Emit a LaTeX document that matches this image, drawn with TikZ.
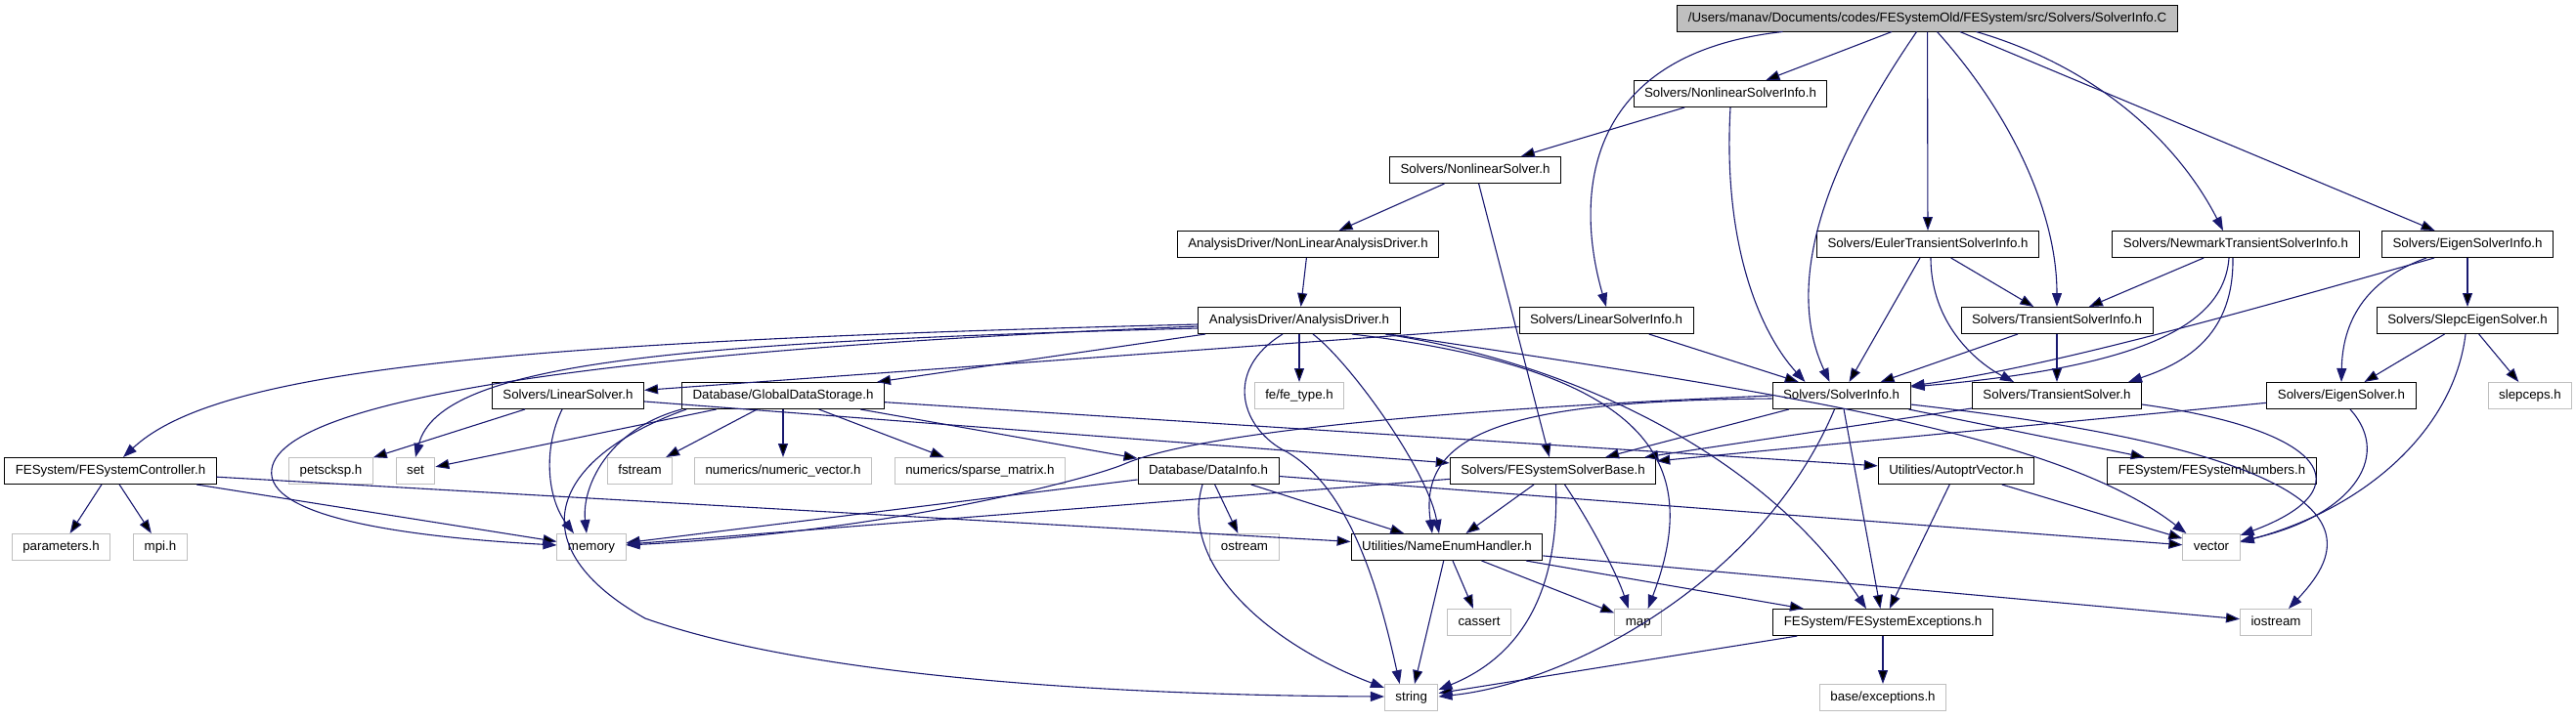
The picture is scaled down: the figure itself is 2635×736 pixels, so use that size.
\documentclass[tikz,border=0pt]{standalone}
\usepackage{fontspec}
\setmainfont{Liberation Sans}
\usetikzlibrary{arrows.meta, calc, positioning}
\definecolor{edgeblue}{HTML}{191970}
\definecolor{boxgray}{HTML}{BFBFBF}
\tikzset{hdr/.style={rectangle,draw=black,fill=white,line width=0.5pt,
    minimum height=13.5pt,inner xsep=5.5pt,inner ysep=0pt,
    text height=5pt,text depth=1.4pt,font=\fontsize{6.65}{8}\selectfont},
    sys/.style={hdr, draw=boxgray},
    rootfile/.style={hdr, fill=boxgray},
    dep/.style={draw=edgeblue,line width=0.55pt,-{Triangle[length=7pt,width=5pt]}}}

\begin{document}
\begin{tikzpicture}[x=0.5pt,y=-0.5pt]
    \useasboundingbox (0,0) rectangle (2635,736);
    \node[rootfile] (root) at (1971.5,18.5) {/Users/manav/Documents/codes/FESystemOld/FESystem/src/Solvers/SolverInfo.C};
    \foreach \pos/\name/\txt in {{(1770,96)/nlsi/{Solvers/NonlinearSolverInfo.h}}, {(1509,174)/nls/{Solvers/NonlinearSolver.h}},
        {(1338,250)/nlad/{AnalysisDriver/NonLinearAnalysisDriver.h}}, {(1972,250)/etsi/{Solvers/EulerTransientSolverInfo.h}},
        {(2287,250)/ntsi/{Solvers/NewmarkTransientSolverInfo.h}}, {(2524,250)/esi/{Solvers/EigenSolverInfo.h}},
        {(1329,328)/ad/{AnalysisDriver/AnalysisDriver.h}}, {(1643,328)/lsi/{Solvers/LinearSolverInfo.h}},
        {(2104,328)/tsi/{Solvers/TransientSolverInfo.h}}, {(2524,328)/ses/{Solvers/SlepcEigenSolver.h}},
        {(581,405)/ls/{Solvers/LinearSolver.h}}, {(801,405)/gds/{Database/GlobalDataStorage.h}},
        {(1883.5,405)/si/{Solvers/SolverInfo.h}}, {(2104,405)/ts/{Solvers/TransientSolver.h}},
        {(2395,405)/es/{Solvers/EigenSolver.h}}, {(113,482)/fc/{FESystem/FESystemController.h}},
        {(1236,482)/di/{Database/DataInfo.h}}, {(1588.5,482)/sb/{Solvers/FESystemSolverBase.h}},
        {(2001,482)/apv/{Utilities/AutoptrVector.h}}, {(2262.5,482)/num/{FESystem/FESystemNumbers.h}},
        {(1480,560)/neh/{Utilities/NameEnumHandler.h}}, {(1926,637)/exc/{FESystem/FESystemExceptions.h}}}
                \node[hdr] (\name) at \pos {\txt};
    \foreach \pos/\name/\txt in {{(1329,405)/fet/{fe/fe\_type.h}}, {(2588,405)/slepc/{slepceps.h}},
        {(338.5,482)/petsc/{petscksp.h}}, {(425,482)/set/{set}}, {(654.5,482)/fstream/{fstream}},
        {(801,482)/nvec/{numerics/numeric\_vector.h}}, {(1002.4,482)/smat/{numerics/sparse\_matrix.h}},
        {(62.5,560)/param/{parameters.h}}, {(164,560)/mpi/{mpi.h}}, {(605,560)/memory/{memory}},
        {(1273,560)/ostream/{ostream}}, {(2262,560)/vector/{vector}}, {(1513,637)/cassert/{cassert}},
        {(1675.7,637)/map/{map}}, {(2328,637)/iostream/{iostream}}, {(1443.7,714)/string/{string}},
        {(1926,714)/bexc/{base/exceptions.h}}}
                \node[sys] (\name) at \pos {\txt};

    \foreach \source/\dest in {root/nlsi, root/etsi, root/esi, nlsi/nls, nls/nlad, nls/sb, nlad/ad, etsi/si, etsi/tsi,
        ntsi/tsi, esi/ses, ses/es, ses/slepc, tsi/ts, tsi/si, lsi/si, lsi/ls, ts/sb, es/sb, ad/gds, ad/fet,
        ls/petsc, ls/sb, gds/set, gds/fstream, gds/nvec, gds/smat, gds/di, gds/apv, fc/param, fc/mpi, fc/memory,
        fc/neh, di/memory, di/vector, di/neh, di/ostream, sb/neh, sb/memory, si/sb, si/exc, si/num, neh/string,
        neh/cassert, neh/map, neh/exc, neh/iostream, apv/vector, apv/exc, exc/string, exc/bexc}
              \path[dep] (\source) edge (\dest);

    % curved includes
    \draw[dep] ($(root.south)+(-148,0)$) .. controls (1620,55) and (1610,200) .. (lsi.north);
    \draw[dep] ($(root.south)+(-11,0)$) .. controls (1880,150) and (1820,280) .. ($(si.north)+(-12,0)$);
    \draw[dep] ($(root.south)+(10,0)$) .. controls (2060,120) and (2104,220) .. (tsi.north);
    \draw[dep] ($(root.south)+(50,0)$) .. controls (2150,70) and (2230,150) .. ($(ntsi.north)+(-13,0)$);
    \draw[dep] (nlsi.south) .. controls (1762,250) and (1800,340) .. ($(si.north)+(-37,0)$);
    \draw[dep] ($(etsi.south)+(3,0)$) .. controls (1975,330) and (2020,370) .. ($(ts.north)+(-44,0)$);
    \draw[dep] ($(ntsi.south)+(-7,0)$) .. controls (2275,330) and (2200,375) .. ($(si.north east)+(0,5)$);
    \draw[dep] ($(ntsi.south)+(-3,0)$) .. controls (2285,340) and (2240,370) .. ($(ts.north)+(73,0)$);
    \draw[dep] ($(esi.south)+(-34,0)$) .. controls (2300,318) and (2100,375) .. ($(si.north east)+(0,4)$);
    \draw[dep] ($(esi.south)+(-42,0)$) .. controls (2410,290) and (2396,340) .. (es.north);
    \draw[dep] ($(ses.south)+(-2,0)$) .. controls (2510,440) and (2420,520) .. ($(vector.east)+(0,-5)$);
    \draw[dep] ($(es.south)+(9,0)$) .. controls (2450,470) and (2400,530) .. ($(vector.east)+(0,-6)$);
    \draw[dep] ($(ts.east)+(0,9)$) .. controls (2380,440) and (2420,500) .. ($(vector.east)+(0,-12)$);
    \draw[dep] ($(ad.west)+(0,4)$) .. controls (500,350) and (220,380) .. ($(fc.north)+(13,0)$);
    \draw[dep] ($(ad.west)+(0,6)$) .. controls (700,355) and (290,400) .. (278,480)
        .. controls (270,530) and (420,550) .. ($(memory.west)+(0,-2)$);
    \draw[dep] ($(ad.west)+(0,8)$) .. controls (700,350) and (450,370) .. (set.north);
    \draw[dep] ($(ad.south)+(-17,0)$) .. controls (1250,380) and (1270,440) .. (1317,463)
        .. controls (1380,500) and (1410,600) .. ($(string.north)+(-12,0)$);
    \draw[dep] ($(ad.south)+(14,0)$) .. controls (1380,370) and (1460,480) .. ($(neh.north)+(-8,0)$);
    \draw[dep] ($(ad.south)+(54,0)$) .. controls (1700,380) and (1740,480) .. ($(map.north)+(10,0)$);
    \draw[dep] ($(ad.south)+(88,0)$) .. controls (1600,370) and (1800,460) .. ($(exc.north)+(-17,0)$);
    \draw[dep] ($(ad.south)+(92,0)$) .. controls (1800,400) and (2100,440) .. ($(vector.north west)+(4,0)$);
    \draw[dep] ($(ls.south)+(-6,0)$) .. controls (555,460) and (560,510) .. ($(memory.north)+(-18,0)$);
    \draw[dep] (gds.south west) .. controls (620,440) and (595,500) .. ($(memory.north)+(-5,0)$);
    \draw[dep] ($(gds.south west)+(5,0)$) .. controls (560,470) and (530,560) .. (660,633)
        .. controls (850,700) and (1200,712) .. ($(string.west)+(0,-1)$);
    \draw[dep] ($(di.south)+(-6,0)$) .. controls (1205,580) and (1300,660) .. ($(string.west)+(0,-10)$);
    \draw[dep] ($(sb.south)+(3,0)$) .. controls (1595,600) and (1560,670) .. ($(string.east)+(0,-8)$);
    \draw[dep] ($(sb.south)+(12,0)$) .. controls (1630,540) and (1655,590) .. ($(map.north)+(-10,0)$);
    \draw[dep] ($(si.west)+(0,3)$) .. controls (1550,410) and (1450,440) .. ($(neh.north)+(-15,0)$);
    \draw[dep] (si.west) .. controls (1450,420) and (1220,445) .. (1150,475)
        .. controls (1110,492) and (900,545) .. ($(memory.east)+(0,-2)$);
    \draw[dep] ($(si.south)+(-7,0)$) .. controls (1800,600) and (1600,700) .. ($(string.east)+(0,-1)$);
    \draw[dep] ($(si.east)+(0,9)$) .. controls (2450,470) and (2400,560) .. ($(iostream.north)+(13,0)$);
\end{tikzpicture}
\end{document}
